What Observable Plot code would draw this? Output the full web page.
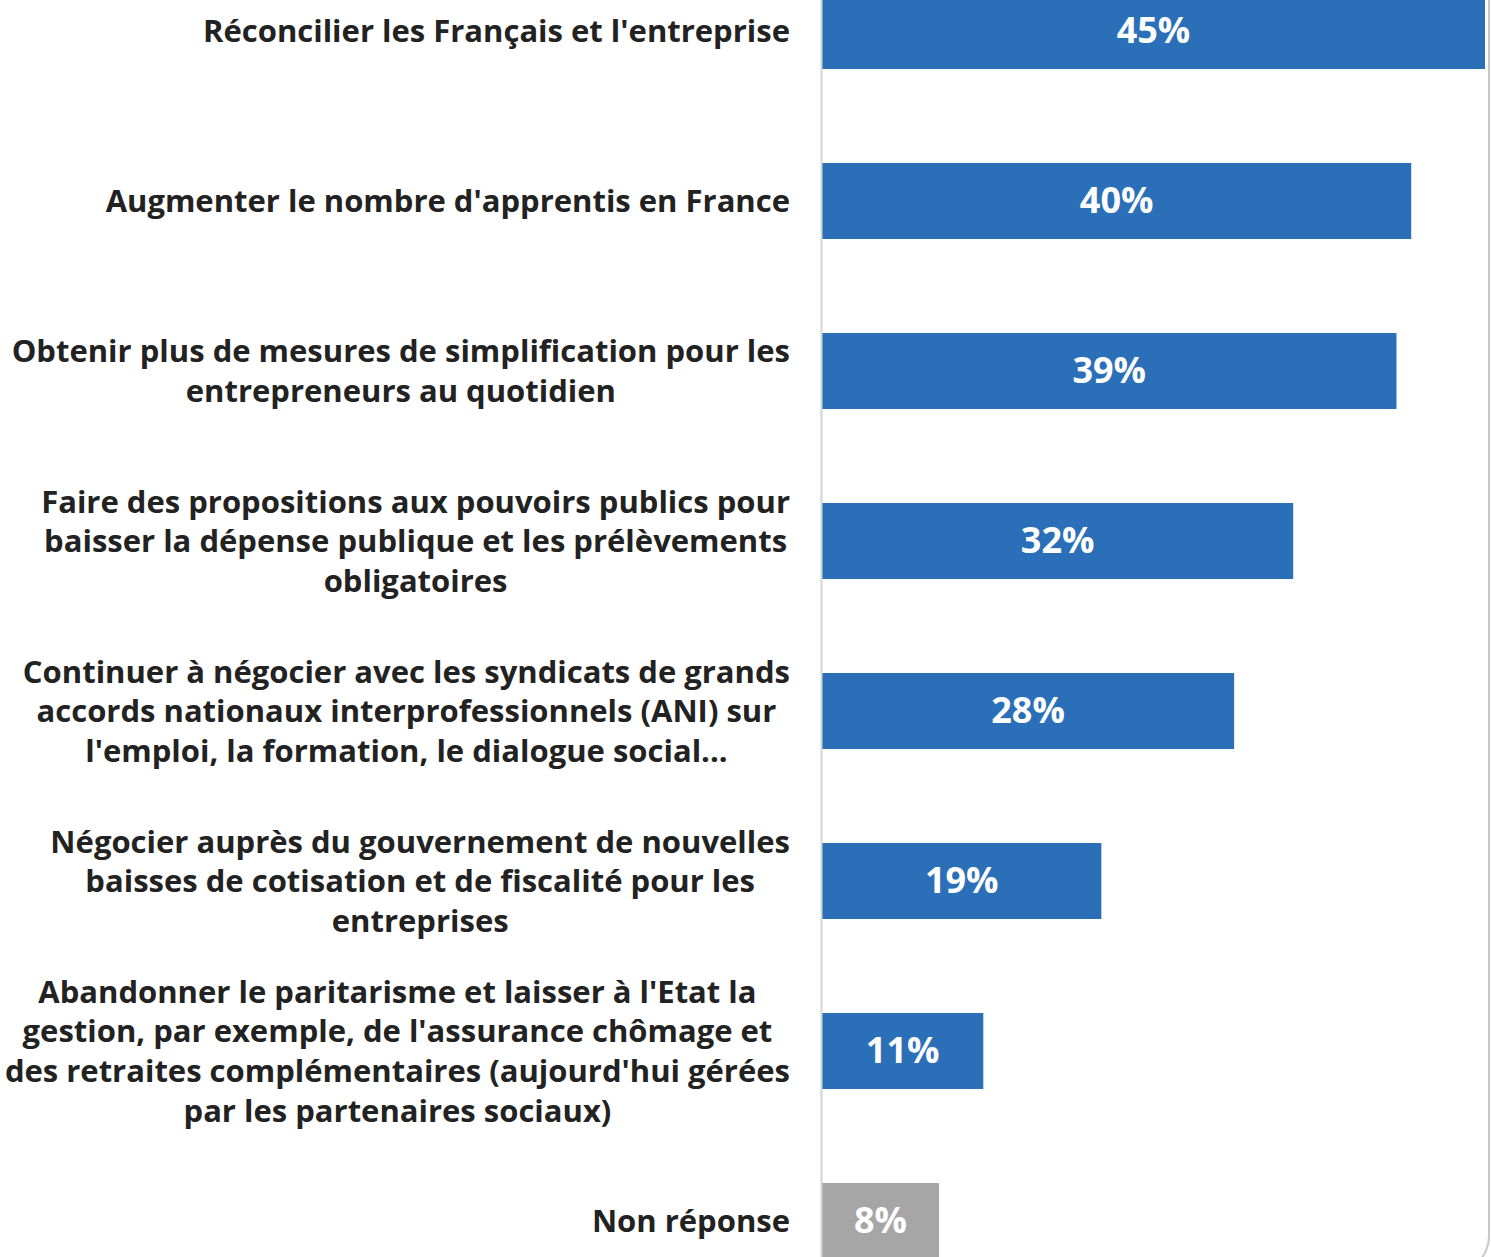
<!DOCTYPE html>
<html>
<head>
<meta charset="utf-8">
<script src="https://cdn.jsdelivr.net/npm/d3@7"></script>
<script src="https://cdn.jsdelivr.net/npm/@observablehq/plot@0.6"></script>
<style>
  html, body { margin: 0; padding: 0; background: #fff; }
  #chart svg { display: block; }
</style>
</head>
<body>
<div id="chart"></div>
<script>
const categories = [
  "Réconcilier les Français et l'entreprise",
  "Augmenter le nombre d'apprentis en France",
  "Obtenir plus de mesures de simplification pour les\nentrepreneurs au quotidien",
  "Faire des propositions aux pouvoirs publics pour\nbaisser la dépense publique et les prélèvements\nobligatoires",
  "Continuer à négocier avec les syndicats de grands\naccords nationaux interprofessionnels (ANI) sur\nl'emploi, la formation, le dialogue social...",
  "Négocier auprès du gouvernement de nouvelles\nbaisses de cotisation et de fiscalité pour les\nentreprises",
  "Abandonner le paritarisme et laisser à l'Etat la\ngestion, par exemple, de l'assurance chômage et\ndes retraites complémentaires (aujourd'hui gérées\npar les partenaires sociaux)",
  "Non réponse"
];
const values = [45, 40, 39, 32, 28, 19, 11, 8];
const valueLabels = ["45%", "40%", "39%", "32%", "28%", "19%", "11%", "8%"];
const isNonResponse = [false, false, false, false, false, false, false, true];

const data = categories.map((c, i) => ({
  category: c,
  value: values[i],
  label: valueLabels[i],
  kind: isNonResponse[i] ? "nr" : "main"
}));

const FONT = "'Open Sans', 'Noto Sans', sans-serif";
const W = 1491, H = 1257;

const plot = Plot.plot({
  width: W,
  height: H,
  margin: 0,
  style: { fontFamily: FONT, background: "#fff", overflow: "hidden" },
  x: { domain: [0, 45], range: [821, 1485], axis: null },
  y: { domain: categories, range: [-101.7, 1354.4], padding: 0.55, axis: null },
  color: { domain: ["main", "nr"], range: ["#2b6fb8", "#a6a6a6"] },
  marks: [
    Plot.barX(data, { x: "value", y: "category", fill: "kind" }),
    Plot.ruleX([0], { stroke: "#d4d4d4", strokeWidth: 2 }),
    Plot.text(data, {
      x: d => d.value / 2, y: "category", text: "label",
      fill: "#ffffff", fontSize: 36, fontWeight: 700
    }),
    Plot.text(data, {
      x: () => 0, y: "category", text: "category",
      textAnchor: "middle", lineHeight: 1.28, dy: -2,
      fill: "#222222", fontSize: 31, fontWeight: 700,
      className: "cat-labels"
    })
  ]
});

document.getElementById("chart").appendChild(plot);

// Align each label block: widest line's right edge at the same position, lines centered
const svg = d3.select(plot);
const RIGHT = 790;
const svgLeft = plot.getBoundingClientRect().left;
svg.selectAll("g.cat-labels text").each(function () {
  const r = this.getBoundingClientRect();
  const shift = RIGHT - (r.right - svgLeft);
  const t = this.getAttribute("transform") || "";
  this.setAttribute("transform", `translate(${shift},0) ` + t);
});

// Rounded frame edge on the right
svg.append("rect")
  .attr("x", -200).attr("y", -200)
  .attr("width", 1489 + 200).attr("height", 1275 + 200)
  .attr("rx", 40).attr("ry", 40)
  .attr("fill", "none").attr("stroke", "#c8c8c8").attr("stroke-width", 2);
</script>
</body>
</html>
